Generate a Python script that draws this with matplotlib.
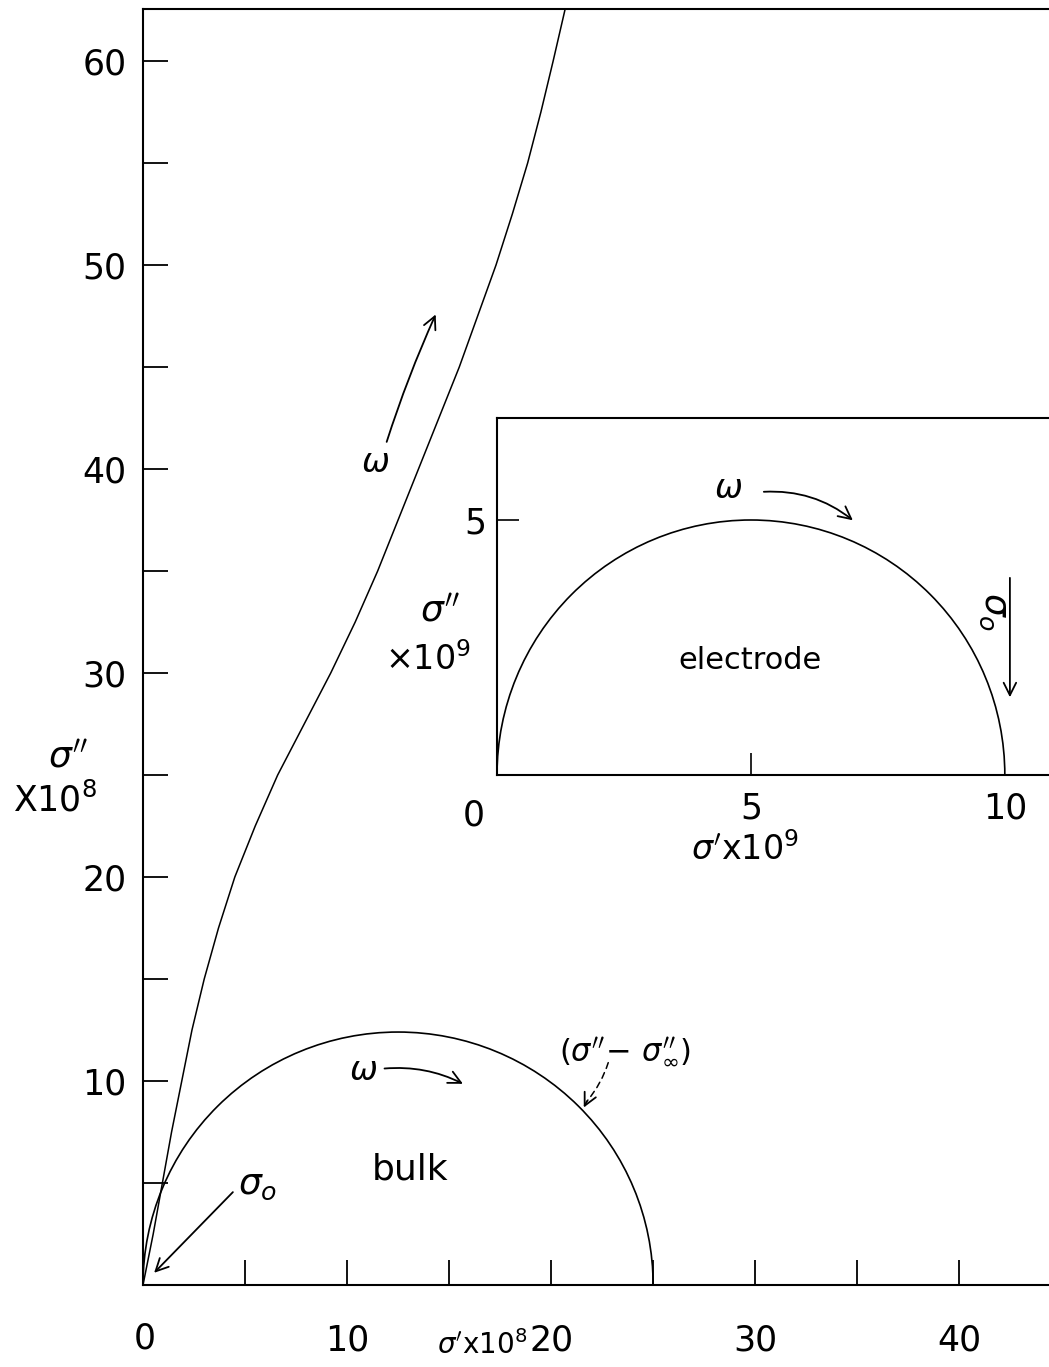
import matplotlib
matplotlib.use("Agg")
import matplotlib.pyplot as plt
from matplotlib.patches import Arc

#### DATA ####

# sigma'' vs sigma' (x1e8) for the full response
full_re = [0, 0.2, 0.5, 0.95, 1.4, 1.9, 2.4, 3.0, 3.7, 4.5, 5.5, 6.6, 7.9, 9.2,
           10.4, 11.5, 12.5, 13.5, 14.5, 15.5, 16.4, 17.3, 18.1, 18.85, 19.5, 20.1, 20.7]
full_im = [0, 1, 2.5, 5, 7.5, 10, 12.5, 15, 17.5, 20, 22.5, 25, 27.5, 30,
           32.5, 35, 37.5, 40, 42.5, 45, 47.5, 50, 52.5, 55, 57.5, 60, 62.6]

# bulk arc: ends on the real axis, height of the top
bulk_ends = [0, 25]
bulk_top = 12.4

# electrode arc (x1e9)
elec_ends = [0, 10]
elec_top = 5

main_xticks = [5, 10, 15, 20, 25, 30, 35, 40]
main_xlabels = ["", "10", "", "20", "", "30", "", "40"]
main_yticks = [5, 10, 15, 20, 25, 30, 35, 40, 45, 50, 55, 60]
main_ylabels = ["", "10", "", "20", "", "30", "", "40", "", "50", "", "60"]

#### PLOT ####

W, H = 1049, 1367
fig = plt.figure(figsize=(W / 100, H / 100), dpi=100)
fs = 25

ax = fig.add_axes([143 / W, 82 / H, 906 / W, 1276 / H])
ax.set_xlim(0, 44.4)
ax.set_ylim(0, 62.55)
ax.spines["right"].set_visible(False)
for s in ["left", "bottom", "top"]:
    ax.spines[s].set_linewidth(1.5)

ax.set_xticks(main_xticks)
ax.set_xticklabels(main_xlabels, fontsize=fs)
ax.set_yticks(main_yticks)
ax.set_yticklabels(main_ylabels, fontsize=fs)
ax.tick_params(axis="x", direction="in", length=18, width=1.3, pad=28)
ax.tick_params(axis="y", direction="in", length=18, width=1.3, pad=12)
ax.text(0.1, -2.6, "0", fontsize=fs, ha="center", va="center")

ax.plot(full_re, full_im, color="black", lw=1.1)
bulk_c = (bulk_ends[0] + bulk_ends[1]) / 2
ax.add_patch(Arc((bulk_c, 0), bulk_ends[1] - bulk_ends[0], 2 * bulk_top,
                 theta1=0, theta2=180, color="black", lw=1.2))

arrow = dict(arrowstyle="->,head_length=0.9,head_width=0.45", color="black", lw=1.3)

ax.text(11.37, 40.3, r"$\omega$", fontsize=24, ha="center", va="center")
ax.annotate("", xy=(14.4, 47.7), xytext=(11.9, 41.2),
            arrowprops=dict(arrow, connectionstyle="arc3,rad=-0.03"))

ax.text(10.78, 10.5, r"$\omega$", fontsize=24, ha="center", va="center")
ax.annotate("", xy=(15.8, 9.8), xytext=(11.7, 10.6),
            arrowprops=dict(arrow, connectionstyle="arc3,rad=-0.15"))

ax.text(23.63, 11.42, r"$(\sigma''\!-\,\sigma_\infty'')$", fontsize=22,
        ha="center", va="center")
# dashed leader with a solid head
ax.annotate("", xy=(21.75, 9.0), xytext=(22.8, 10.9),
            arrowprops=dict(arrowstyle="-", color="black", lw=1.1,
                            linestyle=(0, (4, 3)), shrinkA=0, shrinkB=0,
                            connectionstyle="arc3,rad=-0.1"))
ax.annotate("", xy=(21.6, 8.7), xytext=(21.75, 9.0),
            arrowprops=dict(arrow, shrinkA=0, shrinkB=0))

ax.text(5.6, 4.9, r"$\sigma_o$", fontsize=26, ha="center", va="center")
ax.annotate("", xy=(0.45, 0.5), xytext=(4.5, 4.65), arrowprops=arrow)

ax.text(13.09, 5.64, "bulk", fontsize=26, ha="center", va="center")

fig.text(482 / W, 1 - 1345 / H, r"$\sigma'$x10$^8$", fontsize=20,
         ha="center", va="center")
fig.text(68 / W, 1 - 757 / H, r"$\sigma''$", fontsize=26, ha="center", va="center")
fig.text(55 / W, 1 - 800 / H, r"X10$^8$", fontsize=25, ha="center", va="center")

# electrode inset
ins = fig.add_axes([497 / W, 592 / H, 552 / W, 357 / H])
ins.set_facecolor("white")
ins.set_xlim(0, 10.87)
ins.set_ylim(0, 7.0)
ins.spines["right"].set_visible(False)
for s in ["left", "bottom", "top"]:
    ins.spines[s].set_linewidth(1.5)
ins.set_xticks([5, 10])
ins.set_xticklabels(["5", "10"], fontsize=fs)
ins.set_yticks([5])
ins.set_yticklabels(["5"], fontsize=fs)
ins.tick_params(axis="x", direction="in", length=16, width=1.2, pad=12)
ins.tick_params(axis="y", direction="in", length=16, width=1.2, pad=8)
ins.xaxis.get_major_ticks()[1].tick1line.set_visible(False)
ins.text(-0.45, -0.8, "0", fontsize=fs, ha="center", va="center", clip_on=False)

elec_c = (elec_ends[0] + elec_ends[1]) / 2
ins.add_patch(Arc((elec_c, 0), elec_ends[1] - elec_ends[0], 2 * elec_top,
                  theta1=0, theta2=180, color="black", lw=1.2))

ins.text(4.55, 5.62, r"$\omega$", fontsize=24, ha="center", va="center")
ins.annotate("", xy=(7.05, 4.96), xytext=(5.2, 5.55),
             arrowprops=dict(arrow, connectionstyle="arc3,rad=-0.2"))
ins.text(9.78, 3.2, r"$\sigma_o$", fontsize=26, ha="center", va="center",
         rotation=-90)
ins.annotate("", xy=(10.1, 1.47), xytext=(10.1, 3.92), arrowprops=arrow)
ins.text(4.98, 2.25, "electrode", fontsize=22, ha="center", va="center")

fig.text(440 / W, 1 - 612 / H, r"$\sigma''$", fontsize=26, ha="center", va="center")
fig.text(428 / W, 1 - 660 / H, r"$\times$10$^9$", fontsize=24, ha="center", va="center")
fig.text(745 / W, 1 - 850 / H, r"$\sigma'$x10$^9$", fontsize=24,
         ha="center", va="center")

fig.savefig("out.png", dpi=100)
